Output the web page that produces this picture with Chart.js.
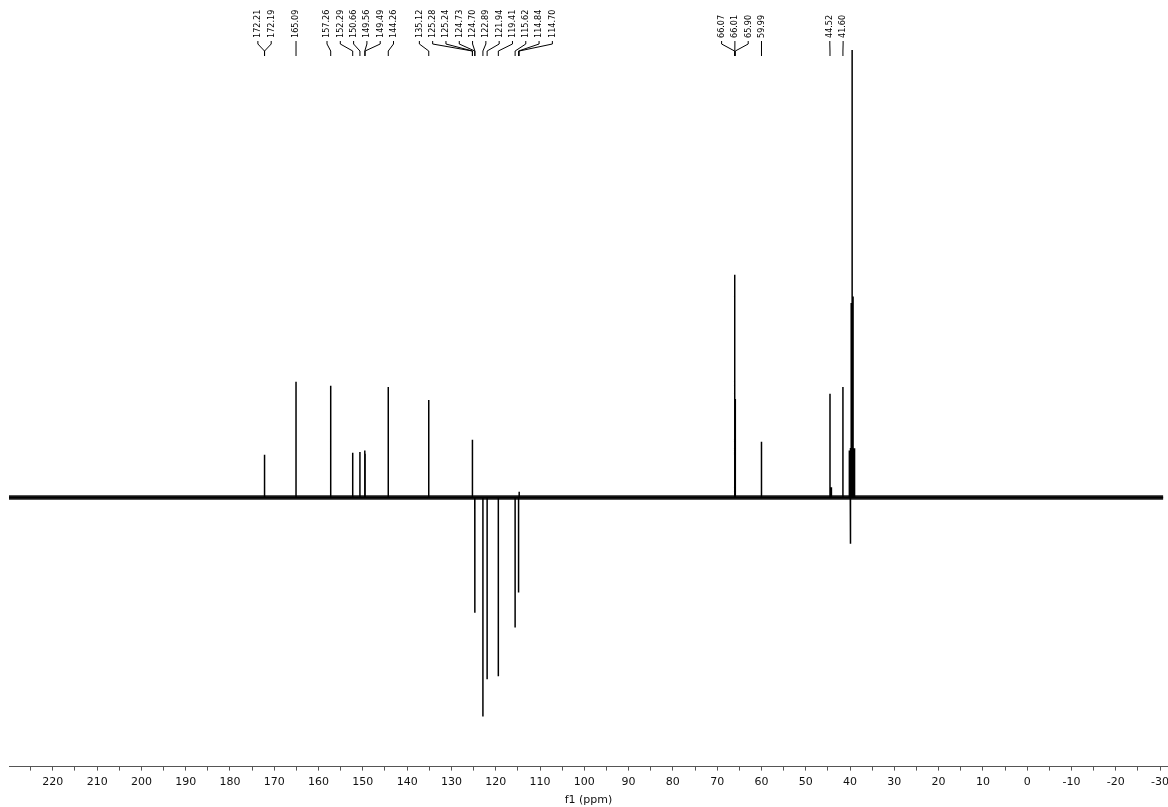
<!DOCTYPE html>
<html>
<head>
<meta charset="utf-8">
<script src="https://cdn.jsdelivr.net/npm/chart.js@4.4.0/dist/chart.umd.min.js"></script>
<style>
  html, body { margin: 0; padding: 0; background: #fff; }
  #wrap { width: 1168px; height: 807px; }
</style>
</head>
<body>
<div id="wrap"><canvas id="nmr"></canvas></div>
<script>
// --- DATA (ppm / relative intensity, solvent top = 100) ---
const peakShifts  = [172.21, 172.19, 165.09, 157.26, 152.29, 150.66, 149.56, 149.49, 144.26,
                     135.12, 125.28, 125.24, 124.73, 124.70, 122.89, 121.94, 119.41, 115.62,
                     114.84, 114.70, 66.07, 66.01, 65.90, 59.99, 44.52, 41.60];
const peakHeights = [9.6, 9.2, 25.9, 25.0, 10.0, 10.2, 10.5, 9.8, 24.7,
                     21.8, 12.9, 12.4, -25.7, -25.0, -48.9, -40.6, -39.9, -29.0,
                     -21.2, 1.3, 49.8, 46.0, 22.0, 12.5, 23.2, 24.7];
// unlabelled lines (DMSO-d6 multiplet + small impurity)
const otherShifts  = [44.20, 40.15, 39.94, 39.86, 39.73, 39.52, 39.31, 39.10, 38.89];
const otherHeights = [2.3, 10.5, 11.1, -10.3, 43.5, 100, 44.9, 11.0, 4.0];
const spectrumRange = [230.0, -30.7];
const axisMin = -31.8, axisMax = 229.9;

// --- BUILD TRACE ---
const lines = peakShifts.map((v, i) => ({ v, h: peakHeights[i] }))
  .concat(otherShifts.map((v, i) => ({ v, h: otherHeights[i] })))
  .sort((a, b) => b.v - a.v);

const trace = [{ x: spectrumRange[0], y: 0 }];
lines.forEach(l => {
  trace.push({ x: l.v, y: 0 }, { x: l.v, y: l.h }, { x: l.v, y: 0 });
});
trace.push({ x: spectrumRange[1], y: 0 });

// --- PEAK LABELS (rotated, de-overlapped) ---
const peakLabels = {
  id: 'peakLabels',
  afterDraw(chart) {
    const xs = chart.scales.x;
    const ctx = chart.ctx;
    const gap = 13.3;
    const items = peakShifts.map(v => ({ v, px: xs.getPixelForValue(v) }))
      .sort((a, b) => a.px - b.px);
    const start = g => g.reduce((s, it) => s + it.px, 0) / g.length - (g.length - 1) * gap / 2;

    let groups = items.map(it => [it]);
    let merged = true;
    while (merged) {
      merged = false;
      for (let i = 0; i < groups.length - 1; i++) {
        const a = groups[i], b = groups[i + 1];
        if (start(b) - (start(a) + (a.length - 1) * gap) < gap - 0.01) {
          groups.splice(i, 2, a.concat(b));
          merged = true;
          break;
        }
      }
    }

    ctx.save();
    ctx.strokeStyle = '#000';
    ctx.fillStyle = '#000';
    ctx.lineWidth = 1;
    ctx.font = '9px "DejaVu Sans Condensed", "Liberation Sans", sans-serif';
    ctx.textAlign = 'left';
    ctx.textBaseline = 'middle';
    groups.forEach(g => {
      const s0 = start(g);
      g.forEach((it, i) => {
        const lx = s0 + i * gap;
        ctx.beginPath();
        ctx.moveTo(lx, 41);
        ctx.lineTo(lx, 44);
        ctx.lineTo(it.px, 51);
        ctx.lineTo(it.px, 56);
        ctx.stroke();
        ctx.save();
        ctx.translate(lx, 38);
        ctx.rotate(-Math.PI / 2);
        ctx.fillText(it.v.toFixed(2), 0, 0);
        ctx.restore();
      });
    });
    ctx.restore();
  }
};

new Chart(document.getElementById('nmr'), {
  type: 'line',
  data: {
    datasets: [
      {
        data: trace,
        borderColor: '#000',
        borderWidth: 1.5,
        borderJoinStyle: 'bevel',
        pointRadius: 0,
        tension: 0,
        order: 1
      },
      {
        data: [{ x: spectrumRange[0], y: 0 }, { x: spectrumRange[1], y: 0 }],
        borderColor: '#1c1c1c',
        borderWidth: 4.5,
        pointRadius: 0,
        order: 2
      }
    ]
  },
  options: {
    responsive: true,
    maintainAspectRatio: false,
    animation: false,
    devicePixelRatio: 1,
    layout: { padding: { left: 9, right: 0, top: 50, bottom: 0 } },
    plugins: { legend: { display: false }, tooltip: { enabled: false } },
    scales: {
      x: {
        type: 'linear',
        reverse: true,
        min: axisMin,
        max: axisMax,
        afterFit(scale) { scale.paddingLeft = 0; scale.paddingRight = 0; },
        border: { display: true, color: '#555', width: 1 },
        grid: { drawOnChartArea: false, tickLength: 4, color: '#555', tickWidth: 1 },
        ticks: {
          stepSize: 5,
          includeBounds: false,
          autoSkip: false,
          maxRotation: 0,
          padding: 5,
          color: '#111',
          font: { family: 'DejaVu Sans', size: 11 },
          callback: v => (v % 10 === 0 ? String(v) : '')
        },
        title: {
          display: true,
          text: 'f1 (ppm)',
          color: '#111',
          font: { family: 'DejaVu Sans', size: 11 },
          padding: { top: 0, bottom: 0 }
        }
      },
      y: {
        display: false,
        min: -60.1,
        max: 100
      }
    }
  },
  plugins: [peakLabels]
});
</script>
</body>
</html>
